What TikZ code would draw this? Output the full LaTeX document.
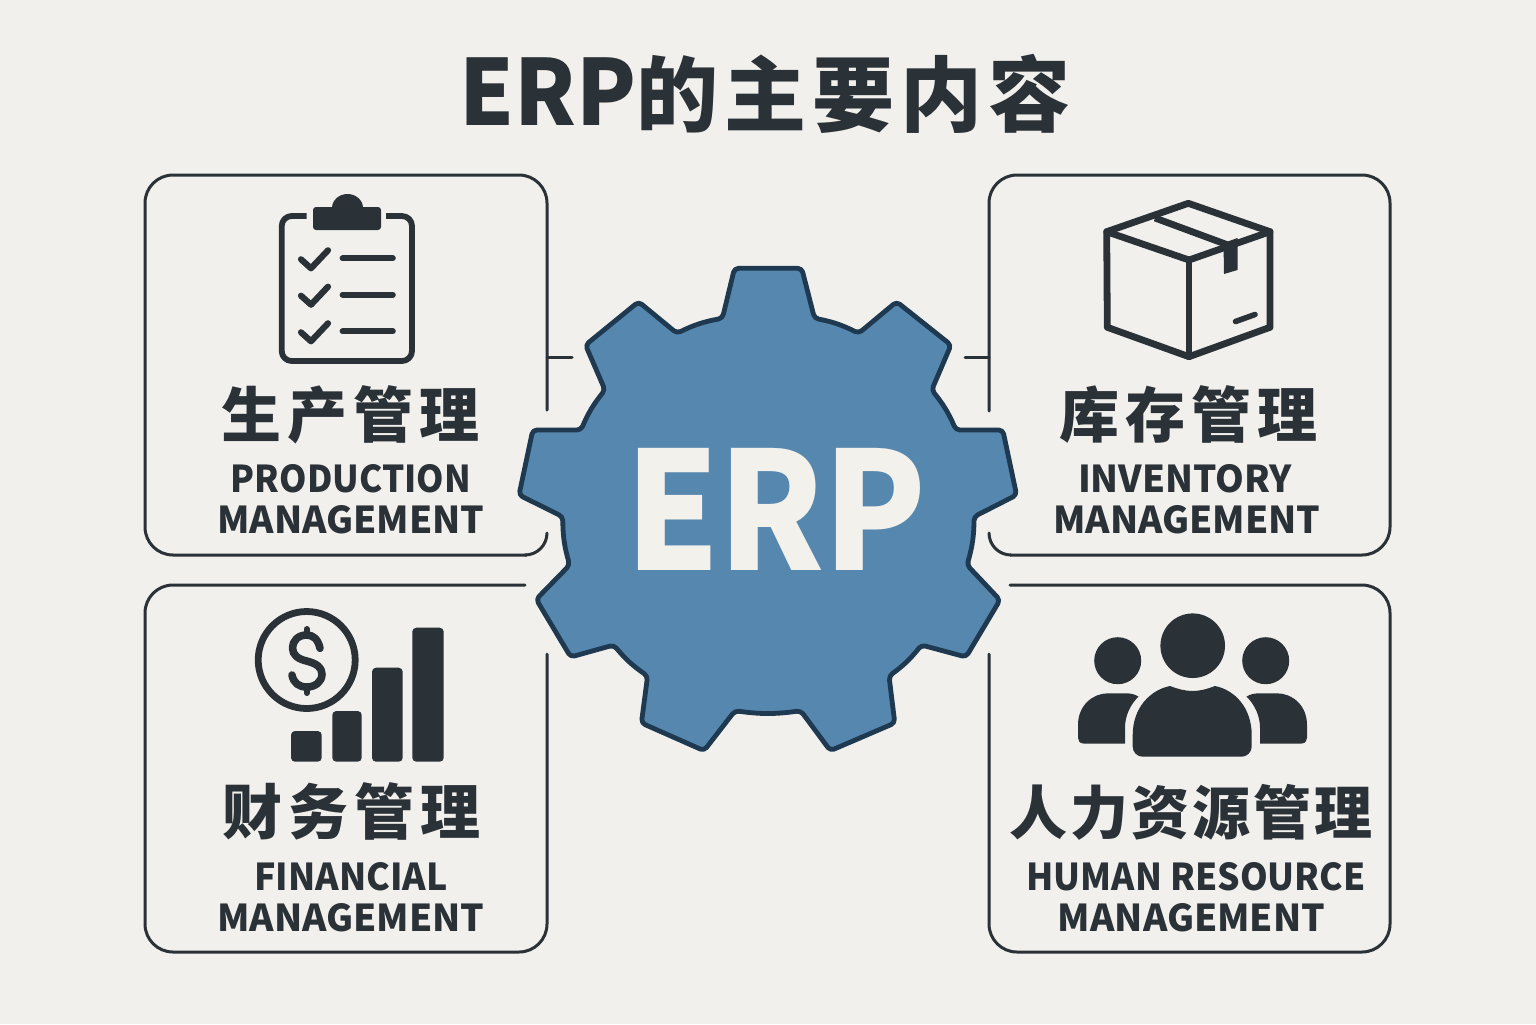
\documentclass[tikz,border=0pt]{standalone}
\usepackage{fontspec}
\newfontfamily\cjk{Noto Sans CJK SC}
\newcommand{\titlelatin}{\cjk\bfseries\fontsize{45.5}{45.5}\selectfont}
\newcommand{\titlecn}{\cjk\bfseries\fontsize{41}{41}\selectfont\addfontfeature{LetterSpace=7.3}}
\newcommand{\cnfont}{\cjk\bfseries\fontsize{30}{30}\selectfont\addfontfeature{LetterSpace=10}}
\newcommand{\cnfontb}{\cjk\bfseries\fontsize{29}{29}\selectfont\addfontfeature{LetterSpace=5}}
\newcommand{\enfont}{\cjk\bfseries\fontsize{18.5}{18.5}\selectfont}
\newcommand{\gearfont}{\cjk\bfseries\fontsize{82}{82}\selectfont\addfontfeature{LetterSpace=-1}}
\definecolor{bgc}{HTML}{F1F0EC}
\definecolor{inkc}{HTML}{2A3137}
\definecolor{gearc}{HTML}{5587AF}
\definecolor{gearl}{HTML}{1F3A50}
\definecolor{erpc}{HTML}{F3F1EC}
\tikzset{
  boxline/.style={draw=inkc,line width=1.5pt,line cap=round},
  iconline/.style={draw=inkc,line cap=round,line join=round},
  iconfill/.style={fill=inkc},
  txt/.style={text=inkc,inner sep=0pt,anchor=base},
}
\begin{document}
\begin{tikzpicture}[x=0.5pt,y=-0.5pt]
\useasboundingbox (0,0) rectangle (1536,1024);
\fill[bgc] (0,0) rectangle (1536,1024);
% title
\node[txt] (title) at (765,125.5) {{\titlelatin\scalebox{0.96}[1]{ERP}}{\titlecn 的主要内容}};
% panels
\draw[boxline,rounded corners=14pt] (547,410) -- (547,175) -- (145,175) -- (145,555) -- (547,555);
\fill[bgc] (527,545) rectangle (560,565);
\draw[boxline] (525,555) arc[start angle=90,end angle=0,radius=22];
\draw[boxline] (547,357) -- (572,357);
\draw[boxline,rounded corners=14pt] (989,411) -- (989,175) -- (1390,175) -- (1390,555) -- (989,555);
\fill[bgc] (975,545) rectangle (1010,565);
\draw[boxline] (1011,555) arc[start angle=90,end angle=180,radius=22];
\draw[boxline] (989,357) -- (965,357);
\draw[boxline,rounded corners=14pt] (525,585) -- (145,585) -- (145,952) -- (547,952) -- (547,654);
\draw[boxline,rounded corners=14pt] (1010,585) -- (1390,585) -- (1390,952) -- (989,952) -- (989,654);
% gear
\draw[fill=gearc,draw=gearl,line width=2.4pt,line join=round,rounded corners=2pt]
 (734.5,268.3) -- (801.7,268.3) -- (814.5,318.3) to[bend left=8] (858.6,333.3)
 -- (896.6,301.7) -- (951,345) -- (931.7,390) to[bend left=8] (955.9,430)
 -- (1002.8,430) -- (1016.6,495) -- (974,516.7) to[bend left=8] (967,565)
 -- (1000,600) -- (966,657) -- (921.4,645) to[bend left=8] (889,676)
 -- (894.8,723) -- (830.3,750.7) -- (800.7,710.7) to[bend left=8] (735,710.7)
 -- (704,750.7) -- (641.4,723) -- (647.6,676) to[bend left=8] (613.8,645)
 -- (570.7,657) -- (536.2,599.3) -- (569.7,565) to[bend left=8] (562.8,516.7)
 -- (519,495) -- (532.8,430) -- (581,430) to[bend left=8] (605,390)
 -- (585.5,345) -- (638.6,301.7) -- (676.9,333.3) to[bend left=8] (722.4,318.3)
 -- cycle;
\node[text=erpc,inner sep=0pt,anchor=base] (erp) at (776,570) {\gearfont\scalebox{0.915}[1]{ERP}};
% clipboard
\draw[iconline,line width=2.9pt,line cap=butt,rounded corners=5pt] (306.7,216) -- (281.7,216) -- (281.7,361) -- (412,361) -- (412,216) -- (386,216);
\fill[iconfill,rounded corners=1.5pt] (313,207) rectangle (381,230);
\fill[iconfill] (332,208) arc[x radius=15.5,y radius=14,start angle=180,end angle=360] -- cycle;
\foreach \yy in {258.3,294.7,331.3}{
  \draw[iconline,line width=3.1pt] (342.7,\yy) -- (392.7,\yy);
  \draw[iconline,line width=3.1pt] (301,\yy+1) -- (311,\yy+10) -- (328,\yy-8);
}
% box
\draw[iconline,line width=3.4pt] (1188.3,203.3) -- (1270,231.7) -- (1270,327.3) -- (1189,356.7) -- (1107.3,327.3) -- (1106.7,231.7) -- cycle;
\draw[iconline,line width=3.4pt] (1106.7,231.7) -- (1189,260) -- (1270,231.7);
\draw[iconline,line width=3.4pt] (1189,260) -- (1189,356.7);
\draw[iconline,line width=3.4pt,line cap=butt] (1155,218) -- (1228,245);
\fill[iconfill] (1223.5,243) -- (1237.5,238) -- (1237.5,270) -- (1224,274) -- cycle;
\draw[iconline,line width=2.8pt] (1235.5,321.5) -- (1255,314.5);
% finance
\draw[iconline,line width=3.4pt] (306.7,660) circle[radius=48.5];
\draw[iconline,line width=3.8pt] (320,648.3) .. controls (318,639) and (313,635) .. (306.7,635)
  .. controls (298,635) and (292.5,641) .. (292.5,648)
  .. controls (292.5,655) and (298,659) .. (306.7,661)
  .. controls (316,663.5) and (322,667) .. (322,674)
  .. controls (322,682) and (315,687) .. (306.7,687)
  .. controls (299,687) and (293.5,683) .. (292,675);
\draw[iconline,line width=3pt] (306.7,629) -- (306.7,635);
\draw[iconline,line width=3pt] (306.7,687) -- (306.7,693);
\fill[iconfill,rounded corners=2pt] (291,731) rectangle (321.7,761.7);
\fill[iconfill,rounded corners=2pt] (332.3,711) rectangle (361.7,761.7);
\fill[iconfill,rounded corners=2pt] (372,667.7) rectangle (402.7,761.7);
\fill[iconfill,rounded corners=2pt] (412.3,627.7) rectangle (443.7,761.7);
% people
\fill[iconfill] (1192.7,645.7) circle[radius=32.3];
\fill[iconfill] (1117.7,660.7) circle[radius=23.5];
\fill[iconfill] (1265.7,660.7) circle[radius=23.5];
\fill[iconfill] (1142.7,756.7) .. controls (1137,756.7) and (1132.7,752) .. (1132.7,746.7)
  -- (1132.7,735) .. controls (1132.7,708) and (1150,690) .. (1170,686)
  .. controls (1178,689) and (1185,691) .. (1192.7,691)
  .. controls (1200,691) and (1207,689) .. (1215,686)
  .. controls (1235,690) and (1251.7,708) .. (1251.7,735)
  -- (1251.7,746.7) .. controls (1251.7,752) and (1247,756.7) .. (1241.7,756.7) -- cycle;
\fill[iconfill] (1083.5,743.5) .. controls (1080,743.5) and (1078,741) .. (1078,738)
  -- (1078,725) .. controls (1078,705) and (1093,693.3) .. (1108,693.3)
  -- (1126,693.3) .. controls (1131,693.3) and (1135,694.5) .. (1138.5,696.5)
  .. controls (1130,705) and (1125,716) .. (1125,728) -- (1125,743.5) -- cycle;
\fill[iconfill] (1301.5,743.5) .. controls (1305,743.5) and (1307,741) .. (1307,738)
  -- (1307,725) .. controls (1307,705) and (1292,693.3) .. (1277,693.3)
  -- (1259,693.3) .. controls (1254,693.3) and (1250,694.5) .. (1246.5,696.5)
  .. controls (1255,705) and (1260,716) .. (1260,728) -- (1260,743.5) -- cycle;
% labels
\node[txt] (pcn) at (350,437) {\cnfont 生产管理};
\node[txt] (pen1) at (351,492) {\enfont\scalebox{0.945}[1]{PRODUCTION}};
\node[txt] (pen2) at (351,533) {\enfont MANAGEMENT};
\node[txt] (icn) at (1188,437) {\cnfont 库存管理};
\node[txt] (ien1) at (1185,492) {\enfont\scalebox{0.99}[1]{INVENTORY}};
\node[txt] (ien2) at (1187,533) {\enfont MANAGEMENT};
\node[txt] (fcn) at (351,834) {\cnfont 财务管理};
\node[txt] (fen1) at (351,890) {\enfont\scalebox{0.965}[1]{FINANCIAL}};
\node[txt] (fen2) at (351,931) {\enfont MANAGEMENT};
\node[txt] (hcn) at (1191,834) {\cnfontb 人力资源管理};
\node[txt] (hen1) at (1196,890) {\enfont\scalebox{0.955}[1]{HUMAN RESOURCE}};
\node[txt] (hen2) at (1191.5,931) {\enfont MANAGEMENT};
\end{tikzpicture}
\end{document}
